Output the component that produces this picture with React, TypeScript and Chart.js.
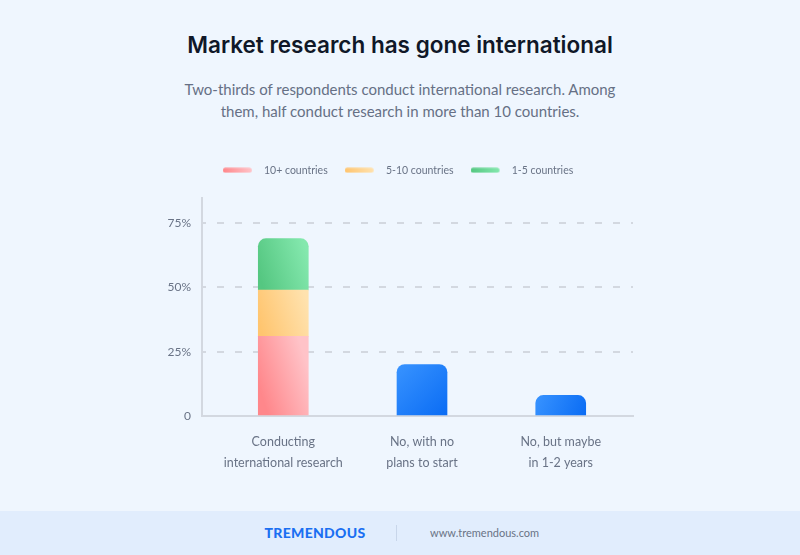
import React, { useEffect, useRef } from "react";
import { Chart, registerables } from "chart.js";
Chart.register(...registerables);

const categories = [
  ["Conducting", "international research"],
  ["No, with no", "plans to start"],
  ["No, but maybe", "in 1-2 years"],
];
const seriesNames = ["10+ countries", "5-10 countries", "1-5 countries"];
const tenPlus = [31, null, null];
const fiveToTen = [18, null, null];
const oneToFive = [20, null, null];
const notInternational = [null, 20, 8];
const yTicks = [0, 25, 50, 75];
const yMax = 85;
const xMin = -0.586;
const xMax = 2.521;

const FONT = "Lato, 'Noto Sans', sans-serif";
const TITLE_FONT = "Inter, Lato, sans-serif";
const GRAY = "#697386";

const redStops = ["#ff878b", "#ffc3c8"];
const orangeStops = ["#ffc56f", "#ffe2ae"];
const greenStops = ["#55c781", "#84e8ae"];
const blueStops = ["#3893ff", "#0a6cf4"];

const stackedSeries = [tenPlus, fiveToTen, oneToFive, notInternational];

const toPoints = (arr: (number | null)[]) => arr.map((v, i) => ({ x: i, y: v }));

function segGradient(ctx: any, stops: string[], dsIndex: number, diagonalDown = false) {
  const chart = ctx.chart;
  const area = chart.chartArea;
  const xs = chart.scales?.x;
  const ys = chart.scales?.y;
  if (!area || !xs || !ys || ctx.dataIndex === undefined) return stops[0];
  const i = ctx.dataIndex;
  let start = 0;
  for (let k = 0; k < dsIndex; k++) start += (stackedSeries[k][i] as number) || 0;
  const end = start + ((stackedSeries[dsIndex][i] as number) || 0);
  const xc = xs.getPixelForValue(i);
  const y0 = ys.getPixelForValue(start);
  const y1 = ys.getPixelForValue(end);
  const c = chart.ctx as CanvasRenderingContext2D;
  let g: CanvasGradient;
  if (diagonalDown) {
    g = c.createLinearGradient(xc - 25, y1, xc + 25, y0);
  } else {
    const ym = (y0 + y1) / 2;
    g = c.createLinearGradient(xc - 25, ym + 8, xc + 25, ym - 8);
  }
  g.addColorStop(0, stops[0]);
  g.addColorStop(1, stops[1]);
  return g;
}

function pill(stops: string[]) {
  const cv = document.createElement("canvas");
  cv.width = 36;
  cv.height = 6;
  const c = cv.getContext("2d")!;
  const g = c.createLinearGradient(0, 0, 29, 0);
  g.addColorStop(0, stops[0]);
  g.addColorStop(1, stops[1]);
  c.fillStyle = g;
  c.beginPath();
  (c as any).roundRect(0, 0.5, 29, 5, 2.5);
  c.fill();
  return cv;
}

export default function App() {
  const ref = useRef<HTMLCanvasElement>(null);
  useEffect(() => {
    document.body.style.margin = "0";
    const legendStops = [redStops, orangeStops, greenStops];
    const legendMargin = {
      id: "legendMargin",
      beforeInit(chart: any) {
        const fit = chart.legend.fit;
        chart.legend.fit = function () {
          fit.bind(chart.legend)();
          this.height += 12;
        };
      },
      afterLayout(chart: any) {
        if (chart.legend) {
          chart.legend.left += 6.5;
          chart.legend.right += 6.5;
        }
      },
    };
    const chart = new Chart(ref.current!, {
      type: "bar",
      data: {
        datasets: [
          {
            label: seriesNames[0],
            data: toPoints(tenPlus),
            backgroundColor: (ctx: any) => segGradient(ctx, redStops, 0),
            borderRadius: 0,
            borderSkipped: false,
          },
          {
            label: seriesNames[1],
            data: toPoints(fiveToTen),
            backgroundColor: (ctx: any) => segGradient(ctx, orangeStops, 1),
            borderRadius: 0,
            borderSkipped: false,
          },
          {
            label: seriesNames[2],
            data: toPoints(oneToFive),
            backgroundColor: (ctx: any) => segGradient(ctx, greenStops, 2),
            borderRadius: { topLeft: 8, topRight: 8, bottomLeft: 0, bottomRight: 0 },
            borderSkipped: false,
          },
          {
            label: "No",
            data: toPoints(notInternational),
            backgroundColor: (ctx: any) => segGradient(ctx, blueStops, 3, true),
            borderRadius: { topLeft: 8, topRight: 8, bottomLeft: 0, bottomRight: 0 },
            borderSkipped: false,
          },
        ] as any,
      },
      options: {
        animation: false,
        responsive: false,
        maintainAspectRatio: false,
        datasets: { bar: { barThickness: 50 } } as any,
        layout: { padding: { left: 150, right: 167, top: 8, bottom: 0 } },
        plugins: {
          tooltip: { enabled: false },
          legend: {
            position: "top",
            labels: {
              usePointStyle: true,
              pointStyleWidth: 36,
              padding: 17,
              color: GRAY,
              font: { family: FONT, size: 10.5 },
              generateLabels: () =>
                seriesNames.map((n, i) => ({
                  text: n,
                  pointStyle: pill(legendStops[i]) as any,
                  fillStyle: legendStops[i][0],
                  strokeStyle: "transparent",
                  lineWidth: 0,
                  hidden: false,
                  datasetIndex: i,
                  fontColor: GRAY,
                })),
            },
          },
        },
        scales: {
          x: {
            type: "linear",
            stacked: true,
            min: xMin,
            max: xMax,
            offset: false,
            afterBuildTicks: (s: any) => {
              s.ticks = categories.map((_, i) => ({ value: i }));
            },
            grid: { display: false, drawTicks: false },
            border: { display: true, color: "#d3d8e0", width: 2 },
            ticks: {
              padding: 15,
              color: GRAY,
              font: { family: FONT, size: 12.5, lineHeight: 1.68 },
              maxRotation: 0,
              autoSkip: false,
              callback: (v: any) => categories[Math.round(v)] as any,
            },
            afterFit: (s: any) => {
              s.height = 69;
            },
          },
          y: {
            stacked: true,
            min: 0,
            max: yMax,
            afterBuildTicks: (s: any) => {
              s.ticks = yTicks.map((v) => ({ value: v }));
            },
            afterFit: (s: any) => {
              s.width = 52;
            },
            grid: {
              drawTicks: false,
              lineWidth: 2,
              color: (c: any) => (c.tick && c.tick.value === 0 ? "rgba(0,0,0,0)" : "#d3d8e0"),
            },
            border: { display: true, color: "#d3d8e0", width: 2, dash: [7, 11], dashOffset: 4 },
            ticks: {
              padding: 11,
              color: GRAY,
              font: { family: FONT, size: 12 },
              callback: (v: any) => (v === 0 ? "0" : v + "%"),
            },
          },
        },
      },
      plugins: [legendMargin],
    } as any);
    return () => chart.destroy();
  }, []);

  return (
    <div
      style={{
        position: "fixed",
        left: 0,
        top: 0,
        width: 800,
        height: 555,
        background: "#eff6fe",
        fontFamily: FONT,
        overflow: "hidden",
      }}
    >
      <div
        style={{
          position: "absolute",
          top: 29,
          left: 0,
          width: 800,
          textAlign: "center",
          fontFamily: TITLE_FONT,
          fontSize: 22.5,
          fontWeight: 600,
          color: "#101828",
          lineHeight: "32px",
        }}
      >
        Market research has gone international
      </div>
      <div
        style={{
          position: "absolute",
          top: 78,
          left: 0,
          width: 800,
          textAlign: "center",
          fontSize: 15,
          color: "#667085",
          lineHeight: "22px",
        }}
      >
        Two-thirds of respondents conduct international research. Among
        <br />
        them, half conduct research in more than 10 countries.
      </div>
      <canvas
        ref={ref}
        width={800}
        height={345}
        style={{ position: "absolute", left: 0, top: 140, width: 800, height: 345 }}
      />
      <div
        style={{
          position: "absolute",
          left: 0,
          top: 511,
          width: 800,
          height: 44,
          background: "#e1edfd",
        }}
      >
        <div
          style={{
            position: "absolute",
            left: 215,
            width: 200,
            top: 13,
            textAlign: "center",
            fontSize: 14,
            fontWeight: 900,
            color: "#1a6ff2",
            letterSpacing: 0.3,
            lineHeight: "18px",
          }}
        >
          TREMENDOUS
        </div>
        <div
          style={{
            position: "absolute",
            left: 396,
            top: 14,
            width: 1,
            height: 16,
            background: "#c8d6ea",
          }}
        />
        <div
          style={{
            position: "absolute",
            left: 430,
            top: 14,
            fontSize: 11,
            color: "#697386",
            lineHeight: "16px",
          }}
        >
          www.tremendous.com
        </div>
      </div>
    </div>
  );
}
